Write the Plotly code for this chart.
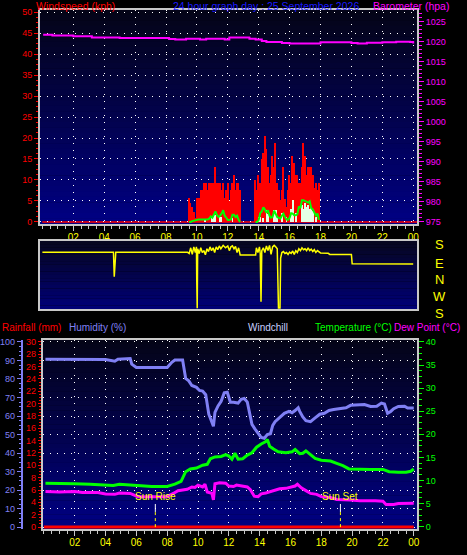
import plotly.graph_objects as go

W, H = 467, 555

# ---------------- data ----------------
hour_ticks = [2, 4, 6, 8, 10, 12, 14, 16, 18, 20, 22, 24]
hour_labels = ["02", "04", "06", "08", "10", "12", "14", "16", "18", "20", "22", "00"]

# Barometer (hPa)
baro_t = [0.05, 0.55, 0.65, 1.8, 2.0, 2.9, 3.2, 4.4, 5.0, 5.9, 7.5, 8.2, 8.6, 9.3, 10.0, 10.2, 10.6,
          11.5, 11.8, 12.1, 12.9, 13.4, 13.8, 14.2, 14.5, 15.2, 15.5, 16.0, 17.0, 17.6, 18.0, 19.7,
          20.0, 20.4, 21.0, 22.0, 22.9, 23.8, 24.0]
baro_hpa = [1021.7, 1021.7, 1021.5, 1021.5, 1021.3, 1021.3, 1021.0, 1021.0, 1020.9, 1020.85, 1020.85,
            1020.6, 1020.5, 1020.7, 1020.7, 1020.5, 1020.7, 1020.7, 1020.5, 1021.0, 1021.0, 1020.7,
            1020.5, 1020.1, 1019.9, 1019.9, 1019.6, 1019.5, 1019.5, 1019.5, 1019.8, 1019.8, 1019.6,
            1019.5, 1019.7, 1019.8, 1019.95, 1019.9, 1019.5]

# Wind (kph), sampled every 6 minutes in two windy spells
wind_block1_start = 9.5
wind_block2_start = 13.8
gust_block1 = [5.6, 4.5, 3.5, 2.3, 1.0, 5.6, 5.6, 5.6, 7.6, 7.6, 9.2, 9.2, 7.5, 9.2, 9.2, 9.2, 9.2,
               13.2, 9.2, 9.2, 9.2, 7.6, 9.2, 5.6, 7.6, 9.2, 5.0, 7.6, 9.2, 11.2, 7.6, 9.2, 9.2, 7.6]
gust_block2 = [10.0, 7.6, 11.2, 9.2, 15.0, 16.5, 20.4, 17.5, 13.2, 9.2, 11.2, 15.7, 13.2, 18.7, 9.2,
               7.6, 5.2, 7.6, 13.2, 5.5, 3.5, 7.6, 11.2, 9.2, 15.7, 14.0, 11.2, 11.2, 9.2, 9.2, 13.2,
               18.7, 15.7, 11.2, 13.2, 13.2, 13.2, 11.2, 8.0, 9.2, 7.6, 9.2]
avg_block1 = [0.0, 0.0, 0.2, 0.3, 0.5, 0.5, 0.6, 0.6, 0.6, 0.6, 0.6, 0.6, 0.6, 0.8, 1.3, 1.0, 1.8,
              2.5, 1.6, 1.2, 1.5, 2.0, 2.8, 1.5, 1.0, 0.5, 0.5, 0.6, 1.7, 1.7, 1.2, 1.5, 0.5, 0.0]
avg_block2 = [0.0, 0.0, 0.5, 2.1, 2.5, 3.5, 3.0, 2.2, 2.8, 1.5, 1.0, 1.2, 2.7, 2.0, 1.2, 1.0, 0.8,
              1.5, 2.0, 1.2, 0.6, 0.5, 1.0, 2.1, 2.0, 1.6, 1.6, 1.8, 3.7, 3.3, 5.2, 5.2, 5.0, 4.9,
              4.6, 4.9, 3.3, 3.0, 2.0, 1.5, 2.0, 0.5]
low_block1 = [0, 0, 0, 0, 0, 0, 0, 0, 0, 0, 0.5, 0, 0, 0, 0, 1.3, 1.7, 1.7, 0, 0, 1.3, 1.3, 0, 0,
              0, 0, 0, 0, 1.0, 0, 0, 0, 0, 0]
low_block2 = [0, 0, 1.3, 1.3, 0, 1.0, 0, 2.9, 2.0, 0, 0, 0, 2.9, 2.9, 1.5, 0, 0, 2.2, 0, 0, 1.3,
              0, 0, 3.0, 5.2, 0, 2.2, 0, 0, 0, 4.0, 3.0, 4.5, 3.5, 4.0, 3.0, 3.5, 2.5, 0, 1.3, 0, 0]

# Wind direction (compass bearing, degrees)
dir_t = [0.0, 4.6, 4.65, 4.7, 4.75, 9.4, 9.5, 9.55, 9.6, 9.7, 9.8, 9.9, 9.97, 9.99, 10.02, 10.05,
         10.15, 10.25, 10.35, 10.45, 10.55, 10.65, 10.75, 10.85, 10.95, 11.05, 11.15, 11.25, 11.35,
         11.45, 11.55, 11.7, 11.85, 12.0, 12.1, 12.2, 12.3, 12.4, 12.5, 12.6, 12.7, 12.8, 13.8,
         13.85, 13.95, 14.05, 14.1, 14.15, 14.2, 14.3, 14.4, 14.5, 14.6, 14.7, 14.8, 14.9, 15.0,
         15.1, 15.2, 15.28, 15.38, 15.42, 15.5, 15.6, 15.7, 15.8, 15.9, 16.0, 16.1, 16.2, 16.3,
         16.4, 16.5, 16.6, 16.7, 16.8, 16.9, 17.0, 17.1, 17.2, 17.3, 17.4, 17.5, 17.6, 17.7, 17.8,
         17.9, 18.0, 18.5, 18.6, 20.0, 20.05, 24.0]
dir_deg = [141, 141, 12, 75, 141, 141, 135, 150, 165, 130, 170, 140, 170, 355, 205, 160,
           135, 165, 140, 150, 128, 160, 145, 170, 150, 165, 140, 170, 155,
           175, 160, 178, 165, 175, 150, 170, 175, 160, 172, 140, 165, 127, 127,
           165, 140, 170, 135, 240, 150, 165, 140, 175, 150, 178, 130, 170, 178,
           170, 160, 206, 206, 111, 140, 145, 135, 140, 130, 142, 135, 148, 130,
           150, 140, 160, 150, 165, 155, 160, 150, 165, 150, 158, 145, 155, 140, 150,
           142, 138, 136, 130, 130, 80, 79]

# Humidity (%)
hum_t = [0.1, 1.0, 2.0, 3.0, 4.0, 4.6, 4.8, 5.6, 5.7, 6.0, 7.0, 8.0, 8.3, 8.5, 9.0, 9.1, 9.2, 9.4,
         9.6, 9.9, 10.1, 10.3, 10.5, 10.7, 10.85, 11.0, 11.1, 11.3, 11.5, 11.7, 11.9, 12.1, 12.3,
         12.6, 12.8, 13.0, 13.2, 13.35, 13.5, 13.7, 13.9, 14.1, 14.3, 14.5, 14.7, 14.85, 15.0, 15.3,
         15.6, 15.9, 16.1, 16.3, 16.5, 16.6, 16.8, 17.0, 17.3, 17.6, 17.9, 18.2, 18.5, 18.8, 19.2,
         19.6, 19.9, 20.4, 20.8, 21.2, 21.6, 21.9, 22.1, 22.3, 22.5, 22.7, 23.0, 23.4, 23.6, 24.0]
hum_pct = [90.7, 90.7, 90.5, 90.6, 90.5, 89.6, 90.7, 91.0, 88.0, 86.2, 86.0, 86.2, 89.0, 90.2, 90.2,
           84.0, 80.3, 79.0, 76.5, 75.5, 73.8, 73.5, 71.5, 61.0, 58.0, 54.5, 62.0, 65.5, 68.0, 72.5,
           72.8, 67.5, 67.5, 67.0, 69.0, 69.5, 67.5, 61.5, 55.5, 53.0, 50.5, 48.5, 48.0, 50.0, 50.5,
           55.0, 57.0, 59.0, 61.5, 62.5, 61.8, 63.0, 64.5, 62.5, 59.5, 57.5, 57.0, 59.0, 61.0, 61.5,
           63.0, 63.5, 64.0, 64.5, 65.8, 66.0, 66.2, 65.2, 65.3, 67.0, 66.5, 61.5, 62.5, 64.0, 65.2,
           65.3, 64.3, 64.3]

# Temperature (°C)
temp_t = [0.1, 1.0, 2.0, 3.0, 3.5, 4.0, 4.5, 4.9, 5.6, 6.3, 7.0, 8.0, 8.5, 8.9, 9.05, 9.2, 9.5, 9.9,
          10.3, 10.6, 10.8, 11.1, 11.5, 11.8, 12.0, 12.2, 12.4, 12.6, 12.9, 13.2, 13.5, 13.8, 14.1,
          14.4, 14.5, 14.65, 14.9, 15.2, 15.7, 16.1, 16.3, 16.6, 16.8, 17.0, 17.3, 17.6, 18.0, 18.6,
          19.0, 19.4, 19.8, 20.5, 21.2, 22.0, 22.4, 23.0, 23.5, 23.8, 24.0]
temp_c = [9.4, 9.4, 9.3, 9.2, 9.1, 8.9, 8.9, 9.2, 9.0, 8.8, 8.7, 8.7, 9.2, 9.8, 10.8, 11.9, 12.5,
          12.7, 13.3, 13.5, 14.7, 15.1, 15.2, 15.6, 15.3, 14.6, 15.9, 14.6, 14.7, 15.5, 16.0, 17.2,
          17.9, 18.4, 18.9, 17.4, 16.8, 16.2, 16.0, 16.2, 16.7, 15.8, 15.9, 16.4, 15.6, 14.8, 14.4,
          14.2, 13.7, 13.2, 12.5, 12.4, 12.4, 12.4, 11.9, 11.8, 11.8, 12.0, 12.5]

# Dew point (°C)
dew_t = [0.1, 1.0, 2.0, 2.5, 3.5, 4.0, 4.6, 4.9, 5.6, 5.9, 6.1, 7.0, 8.0, 8.4, 8.7, 9.3, 9.6, 9.8,
         10.0, 10.3, 10.45, 10.6, 10.9, 11.0, 11.1, 11.4, 11.8, 12.0, 12.3, 12.5, 12.9, 13.2, 13.4,
         13.65, 13.9, 14.1, 14.4, 14.7, 15.0, 15.3, 15.7, 16.0, 16.3, 16.45, 16.7, 17.0, 17.3, 17.7,
         18.0, 18.6, 19.0, 19.9, 20.5, 21.5, 22.0, 22.2, 22.7, 23.0, 24.0]
dew_c = [7.6, 7.5, 7.6, 7.4, 7.4, 7.1, 7.0, 7.3, 7.2, 6.7, 6.5, 6.5, 6.5, 7.2, 7.8, 8.1, 8.6, 8.5,
         9.0, 8.6, 9.2, 7.5, 7.2, 5.8, 9.3, 9.5, 9.4, 8.8, 8.7, 9.0, 8.8, 8.6, 8.0, 6.6, 6.5, 7.1,
         7.3, 7.6, 7.8, 8.2, 8.3, 8.5, 8.8, 9.2, 8.4, 7.8, 7.2, 7.0, 6.5, 6.3, 5.9, 5.8, 5.6, 5.6,
         5.5, 4.8, 4.8, 5.0, 5.1]

# Rainfall (mm), hourly
rain_t = [0, 1, 2, 3, 4, 5, 6, 7, 8, 9, 10, 11, 12, 13, 14, 15, 16, 17, 18, 19, 20, 21, 22, 23, 24]
rain_mm = [0, 0, 0, 0, 0, 0, 0, 0, 0, 0, 0, 0, 0, 0, 0, 0, 0, 0, 0, 0, 0, 0, 0, 0, 0]

sunrise_h = 7.23
sunset_h = 19.24

# ---------------- helpers (layout only) ----------------
def fx(px):
    return px / W


def fy(py):
    return 1 - py / H


def block_times(start, n):
    return [round(start + 0.1 * i, 2) for i in range(n)]


t1 = block_times(wind_block1_start, len(gust_block1))
t2 = block_times(wind_block2_start, len(gust_block2))
wind_t = t1 + t2
gust = gust_block1 + gust_block2
low = low_block1 + low_block2
dir_plot = [b if b <= 200 else b - 360 for b in dir_deg]

FONT = "Liberation Sans, Arial, sans-serif"
GRAY = "#c8c8c8"
YEL = "#ffff00"
HUM = "#8080f4"

fig = go.Figure()

# top panel
fig.add_trace(go.Bar(x=wind_t, y=gust, width=0.1, marker=dict(color="#ff0000", line=dict(width=0)),
                     xaxis="x", yaxis="y", name="Gust"))
fig.add_trace(go.Bar(x=wind_t, y=low, width=0.05, marker=dict(color="#e4ffe4", line=dict(width=0)),
                     xaxis="x", yaxis="y", name="Wind"))
fig.add_trace(go.Scatter(x=t1, y=avg_block1, mode="lines",
                         line=dict(color="#00ff00", width=2), xaxis="x", yaxis="y", name="Avg"))
fig.add_trace(go.Scatter(x=t2, y=avg_block2, mode="lines",
                         line=dict(color="#00ff00", width=2), xaxis="x", yaxis="y", name="Avg2"))
fig.add_trace(go.Scatter(x=baro_t, y=baro_hpa, mode="lines", line=dict(color="#ff00ff", width=2, shape="hv"),
                         xaxis="x", yaxis="y2", name="Barometer"))
# direction panel
fig.add_trace(go.Scatter(x=dir_t, y=dir_plot, mode="lines", line=dict(color="#ffff00", width=1.5),
                         xaxis="x2", yaxis="y3", name="Direction"))
# bottom panel
fig.add_trace(go.Scatter(x=rain_t, y=rain_mm, mode="lines", line=dict(color="#ff0000", width=3),
                         xaxis="x3", yaxis="y4", name="Rain"))
fig.add_trace(go.Scatter(x=hum_t, y=hum_pct, mode="lines", line=dict(color=HUM, width=3),
                         xaxis="x3", yaxis="y5", name="Humidity"))
fig.add_trace(go.Scatter(x=temp_t, y=temp_c, mode="lines", line=dict(color="#00ff00", width=3),
                         xaxis="x3", yaxis="y6", name="Temperature"))
fig.add_trace(go.Scatter(x=dew_t, y=dew_c, mode="lines", line=dict(color="#ff00ff", width=3),
                         xaxis="x3", yaxis="y6", name="Dew Point"))

tickfont = dict(family=FONT, size=9)
grid = dict(showgrid=True, gridcolor="white", gridwidth=1, griddash="1px,6px")

x_common = dict(tickmode="array", tickvals=hour_ticks, ticktext=hour_labels, ticks="outside",
                ticklen=5, tickcolor=GRAY, tickwidth=1, showline=True, linecolor=GRAY, linewidth=2,
                mirror=True, zeroline=False, automargin=False, ticklabelstandoff=-2,
                tickfont=dict(family=FONT, size=10, color=YEL),
                minor=dict(tick0=0, dtick=0.5, ticks="outside", ticklen=3, tickcolor=GRAY, showgrid=False),
                **grid)

top_dom = [fy(224), fy(10)]
dir_dom = [fy(309), fy(241)]
bot_dom = [fy(529), fy(339.5)]

fig.update_layout(
    width=W, height=H, margin=dict(l=0, r=0, t=0, b=0, autoexpand=False),
    paper_bgcolor="black", plot_bgcolor="rgba(0,0,0,0)",
    showlegend=False, barmode="overlay", bargap=0,
    xaxis=dict(domain=[fx(40), fx(417)], range=[-0.155, 24.246], anchor="y", **x_common),
    yaxis=dict(domain=top_dom, range=[-0.48, 50.48], anchor="x", side="left", automargin=False,
               tickmode="array", tickvals=list(range(0, 51, 5)), ticks="outside", ticklen=4,
               tickcolor="#ff0000", tickfont=dict(tickfont, color="#ff0000"), showline=True,
               linecolor=GRAY, linewidth=2, zeroline=False,
               minor=dict(dtick=1.25, tick0=0, ticks="outside", ticklen=2, tickcolor="#ff0000", showgrid=False),
               **grid),
    yaxis2=dict(range=[974.375, 1027.875], overlaying="y", anchor="x", side="right", automargin=False,
                tickmode="array", tickvals=list(range(975, 1026, 5)), ticks="outside", ticklen=5,
                tickcolor="#ff00ff", tickfont=dict(tickfont, color="#ff00ff"), showgrid=False,
                zeroline=False, showline=True, linecolor=GRAY, linewidth=2,
                minor=dict(dtick=1, tick0=975, ticks="outside", ticklen=3, tickcolor="#ff00ff")),
    xaxis2=dict(domain=[fx(40), fx(417)], range=[-0.155, 24.246], anchor="y3", showticklabels=False,
                ticks="", showgrid=False, zeroline=False, showline=True, linecolor=GRAY,
                linewidth=2, mirror=True, automargin=False),
    yaxis3=dict(domain=dir_dom, range=[-159, 201], anchor="x2", showticklabels=False, ticks="",
                showgrid=False, zeroline=False, showline=True, linecolor=GRAY, linewidth=2, mirror=True,
                automargin=False),
    xaxis3=dict(domain=[fx(42.7), fx(417)], range=[-0.078, 24.21], anchor="y4", **x_common),
    yaxis4=dict(domain=bot_dom, range=[-0.32, 30.39], anchor="x3", side="left", automargin=False,
                tickmode="array", tickvals=list(range(0, 31, 2)), ticks="outside", ticklen=3,
                tickcolor="#ff0000", tickfont=dict(tickfont, color="#ff0000"), showgrid=False,
                zeroline=False, showline=True, linecolor=GRAY, linewidth=2,
                minor=dict(dtick=0.5, tick0=0, ticks="outside", ticklen=2, tickcolor="#ff0000")),
    yaxis5=dict(range=[-0.92, 101.3], overlaying="y4", anchor="free", position=fx(21.7), side="left",
                automargin=False,
                tickmode="array", tickvals=list(range(0, 101, 10)), ticks="outside", ticklen=4,
                tickcolor=HUM, tickfont=dict(tickfont, color=HUM), showline=True,
                linecolor=HUM, linewidth=2, zeroline=False,
                minor=dict(dtick=2.5, tick0=0, ticks="outside", ticklen=2, tickcolor=HUM, showgrid=False),
                **grid),
    yaxis6=dict(range=[-0.5, 40.52], overlaying="y4", anchor="x3", side="right", automargin=False,
                tickmode="array", tickvals=list(range(0, 41, 5)), ticks="outside", ticklen=5,
                tickcolor="#00ff00", tickfont=dict(tickfont, color="#00ff00"), showgrid=False,
                zeroline=False, showline=True, linecolor=GRAY, linewidth=2,
                minor=dict(dtick=1.25, tick0=0, ticks="outside", ticklen=3, tickcolor="#00ff00")),
)

# gradient backgrounds
shapes = []


def gradient(xref, yref, n=40, top=(4, 4, 22), bot=(0, 0, 132)):
    for i in range(n):
        t = (i + 0.5) / n
        c = tuple(int(round(top[k] + (bot[k] - top[k]) * t)) for k in range(3))
        shapes.append(dict(type="rect", xref=xref, yref=yref, x0=0, x1=1,
                           y0=1 - (i + 1) / n, y1=1 - i / n + 0.002, layer="below",
                           line=dict(width=0), fillcolor="rgb(%d,%d,%d)" % c))


gradient("x domain", "y domain")
gradient("x2 domain", "y3 domain", n=20, top=(6, 6, 30), bot=(0, 0, 120))
gradient("x3 domain", "y4 domain")

# zero-wind line
shapes.append(dict(type="line", xref="x domain", yref="y", x0=0.006, x1=1, y0=0, y1=0,
                   line=dict(color="#ff0000", width=1.5), layer="below"))
# sunrise / sunset markers
for h in (sunrise_h, sunset_h):
    shapes.append(dict(type="line", xref="x3", yref="y4 domain", x0=h, x1=h, y0=0.01, y1=0.09,
                       line=dict(color=YEL, width=1, dash="dot"), layer="above"))
    shapes.append(dict(type="line", xref="x3", yref="y4 domain", x0=h, x1=h, y0=0.09, y1=0.132,
                       line=dict(color="white", width=1), layer="above"))
fig.update_layout(shapes=shapes)

ann = []


def text(s, px, py, color, size=11, anchor="left"):
    ann.append(dict(text=s, x=fx(px), y=fy(py), xref="paper", yref="paper", xanchor=anchor,
                    yanchor="middle", showarrow=False, font=dict(family=FONT, size=size, color=color)))


text("Windspeed (kph)", 34, 6, "#ff0000", size=10.5)
text("24 hour graph day : 25 September 2026", 171, 6, "#1a1aff", size=10.5)
text("Barometer (hpa)", 371, 6, "#ff00ff", size=10.5)
text("Rainfall (mm)", 0, 327, "#ff0000", size=10)
text("Humidity (%)", 67, 327, HUM, size=10)
text("Windchill", 246, 327, "#c8d0ff", size=10)
text("Temperature (°C)", 313, 327, "#00ff00", size=10)
text("Dew Point (°C)", 392, 327, "#ff00ff", size=10)
for lab, py in zip(["S", "E", "N", "W", "S"], [245, 263, 279, 296, 313]):
    text(lab, 439, py, YEL, size=13, anchor="center")
ann.append(dict(text="Sun Rise", x=sunrise_h, y=0.169, xref="x3", yref="y4 domain", showarrow=False,
                xanchor="center", yanchor="middle", font=dict(family=FONT, size=10, color=YEL)))
ann.append(dict(text="Sun Set", x=sunset_h, y=0.169, xref="x3", yref="y4 domain", showarrow=False,
                xanchor="center", yanchor="middle", font=dict(family=FONT, size=10, color=YEL)))
fig.update_layout(annotations=ann)

fig.write_html("out.html", config={"displayModeBar": False},
               post_script="document.body.style.margin='0px';")
